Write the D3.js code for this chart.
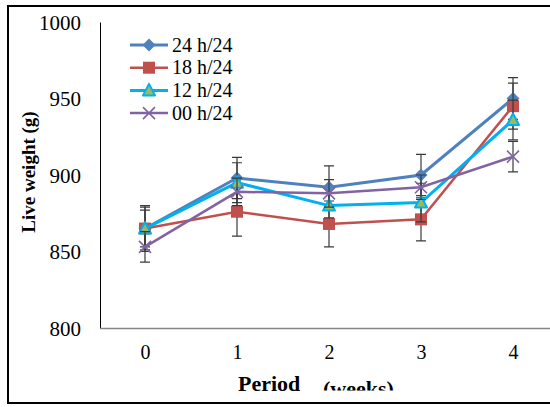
<!DOCTYPE html>
<html>
<head>
<meta charset="utf-8">
<script src="https://cdn.jsdelivr.net/npm/d3@7"></script>
<style>
  body { margin: 0; background: #fff; }
  svg { display: block; }
  text { font-family: "Liberation Serif", "Times New Roman", serif; fill: #000; }
</style>
</head>
<body>
<div id="chart"></div>
<script>
const d = document;

/* Datos */
const periodos = ["0", "1", "2", "3", "4"];
const yTicks = [800, 850, 900, 950, 1000];
const series = ["24 h/24", "18 h/24", "12 h/24", "00 h/24"];
const peso24 = [865, 898, 892, 900, 950];
const peso18 = [865, 876, 868, 871, 945];
const peso12 = [865, 895, 880, 882, 936];
const peso00 = [853, 889, 888, 892, 912];
const err24 = [15, 13.5, 14, 13.5, 13.6];
const err18 = [12, 16, 15, 14, 15];
const err12 = [14, 13, 8, 12.6, 13];
const err00 = [10, 9, 9, 8, 10];

const valores = [peso24, peso18, peso12, peso00];
const errores = [err24, err18, err12, err00];

/* Estilos */
const colores = ["#4F81BD", "#C0504D", "#00B0F0", "#8064A2"];
const grosor = [3, 2.5, 3, 2.5];
const marcas = ["diamond", "square", "triangle", "cross"];
const fuente = "'Liberation Serif', 'Times New Roman', serif";

const width = 550, height = 407;
const svg = d3.select("#chart").append("svg").attr("width", width).attr("height", height);

// Marco exterior
svg.append("rect")
  .attr("x", 8).attr("y", 6).attr("width", 560).attr("height", 397)
  .attr("fill", "none").attr("stroke", "#000").attr("stroke-width", 2);

// Escalas
const x = d3.scalePoint().domain(periodos).range([145, 513]);
const y = d3.scaleLinear().domain([800, 1000]).range([328, 22]);

// Ejes
const ejeY = svg.append("g").attr("transform", "translate(100,0)")
  .call(d3.axisLeft(y).tickValues(yTicks).tickSize(0).tickPadding(19).tickFormat(d3.format("d")));
ejeY.attr("font-family", null).attr("font-size", null);
ejeY.select(".domain").attr("stroke", "#000").attr("stroke-width", 1);
ejeY.selectAll("text").style("font-size", "21px").style("font-family", fuente).attr("dy", "0.35em");

const ejeX = svg.append("g").attr("transform", "translate(0,328)")
  .call(d3.axisBottom(x).tickSize(0).tickPadding(17));
ejeX.attr("font-family", null).attr("font-size", null);
ejeX.select(".domain").attr("d", "M100,0.5H550").attr("stroke", "#868686").attr("stroke-width", 1.5);
ejeX.selectAll("text").style("font-size", "20px").style("font-family", fuente);

// Títulos
svg.append("text")
  .attr("transform", "translate(35,172) rotate(-90)")
  .attr("text-anchor", "middle")
  .style("font-size", "19px").style("font-weight", "bold")
  .text("Live weight (g)");

svg.append("text")
  .attr("x", 238).attr("y", 391)
  .style("font-size", "22px").style("font-weight", "bold")
  .text("Period");

svg.append("clipPath").attr("id", "recorte")
  .append("rect").attr("x", 300).attr("y", 370).attr("width", 120).attr("height", 20.5);
svg.append("text")
  .attr("x", 323).attr("y", 396)
  .attr("clip-path", "url(#recorte)")
  .style("font-size", "22px").style("font-weight", "bold")
  .text("(weeks)");

// Marcadores
function dibujarMarca(g, tipo, color) {
  if (tipo === "diamond") {
    g.append("path").attr("d", "M0,-6.5L6.5,0L0,6.5L-6.5,0Z").attr("fill", color);
  } else if (tipo === "square") {
    g.append("rect").attr("x", -6).attr("y", -6).attr("width", 12).attr("height", 12).attr("fill", color);
  } else if (tipo === "triangle") {
    g.append("path").attr("d", "M0,-6.5L6,5L-6,5Z").attr("fill", "#9BBB59")
      .attr("stroke", color).attr("stroke-width", 2).attr("stroke-linejoin", "round");
  } else {
    g.append("path").attr("d", "M-6,-6L6,6M-6,6L6,-6").attr("stroke", color)
      .attr("stroke-width", 1.6).attr("fill", "none");
  }
}

const linea = d3.line().x((v, i) => x(periodos[i])).y((v) => y(v));

valores.forEach((vals, s) => {
  const g = svg.append("g");

  // Barras de error
  vals.forEach((v, i) => {
    const cx = x(periodos[i]);
    const y1 = y(v + errores[s][i]), y2 = y(v - errores[s][i]);
    g.append("path")
      .attr("d", `M${cx},${y1}V${y2}M${cx - 5},${y1}H${cx + 5}M${cx - 5},${y2}H${cx + 5}`)
      .attr("stroke", "#3a3a3a").attr("stroke-width", 1.2).attr("fill", "none");
  });

  g.append("path")
    .attr("d", linea(vals))
    .attr("fill", "none")
    .attr("stroke", colores[s])
    .attr("stroke-width", grosor[s]);

  vals.forEach((v, i) => {
    const m = g.append("g").attr("transform", `translate(${x(periodos[i])},${y(v)})`);
    dibujarMarca(m, marcas[s], colores[s]);
  });
});

// Leyenda
const leyenda = svg.append("g").attr("transform", "translate(130,45)");
series.forEach((nombre, s) => {
  const fila = leyenda.append("g").attr("transform", `translate(0,${s * 22.7})`);
  fila.append("line").attr("x1", 0).attr("x2", 38).attr("y1", 0).attr("y2", 0)
    .attr("stroke", colores[s]).attr("stroke-width", grosor[s]);
  dibujarMarca(fila.append("g").attr("transform", "translate(19,0)"), marcas[s], colores[s]);
  fila.append("text").attr("x", 42).attr("y", 6.5)
    .style("font-size", "20px")
    .text(nombre);
});
</script>
</body>
</html>
